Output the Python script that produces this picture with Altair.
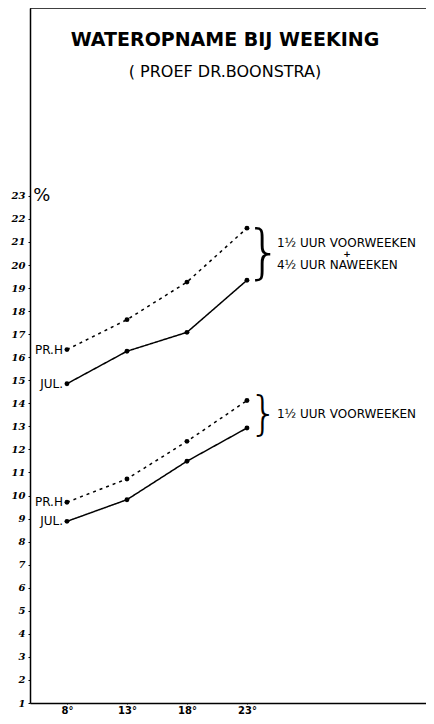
import altair as alt
import pandas as pd

temps = [8, 13, 18, 23]
prh_long = [16.33, 17.63, 19.26, 21.6]
jul_long = [14.85, 16.26, 17.08, 19.34]
prh_short = [9.71, 10.72, 12.35, 14.12]
jul_short = [8.88, 9.82, 11.49, 12.93]

series_names = ["prh_long", "jul_long", "prh_short", "jul_short"]
series_vals = [prh_long, jul_long, prh_short, jul_short]
series_dash = ["dot", "solid", "dot", "solid"]
series_lab = ["PR.H", "JUL.", "PR.H", "JUL."]

y_ticks = list(range(1, 24))
x_ticks = temps

rows = []
for n, vals, d in zip(series_names, series_vals, series_dash):
    for t, v in zip(temps, vals):
        rows.append({"series": n, "temp": t, "val": v, "dash": d})
df = pd.DataFrame(rows)

lab_df = pd.DataFrame({"temp": [temps[0]] * 4,
                       "val": [s[0] for s in series_vals],
                       "label": series_lab})

W = 396
XD = [4.92, 4.92 + W / 12]
YD = [1, 31.15]
xs = alt.Scale(domain=XD, nice=False, zero=False)
ys = alt.Scale(domain=YD, nice=False, zero=False)

base = alt.Chart(df)

x_enc = alt.X("temp:Q", scale=xs,
              axis=alt.Axis(values=x_ticks, labelExpr="datum.value + '°'", title=None))
y_enc = alt.Y("val:Q", scale=ys, axis=alt.Axis(values=y_ticks, title=None))

lines = base.mark_line(color="black", strokeWidth=1.5).encode(
    x=x_enc, y=y_enc, detail="series:N",
    strokeDash=alt.StrokeDash("dash:N", scale=alt.Scale(domain=["dot", "solid"], range=[[3, 4], [1, 0]]), legend=None),
)
pts = base.mark_circle(color="black", size=24, opacity=1).encode(x=x_enc, y=y_enc)

labels = alt.Chart(lab_df).mark_text(align="right", baseline="middle", dx=-4, fontSize=12,
                                     font="DejaVu Sans", color="black").encode(
    x=x_enc, y=y_enc, text="label:N")

topline = alt.Chart(pd.DataFrame({"val": [YD[1]]})).mark_rule(color="black", strokeWidth=1.5).encode(
    y=y_enc, x=alt.value(0), x2=alt.value(W))

ann = pd.DataFrame({
    "temp": [21.17, 21.17, 5.9, 25.5, 25.5, 31.33, 25.5],
    "val": [29.76, 28.37, 23.0, 20.95, 20.0, 20.48, 13.54],
    "t": ["WATEROPNAME BIJ WEEKING", "( PROEF DR.BOONSTRA)", "%",
          "1½ UUR  VOORWEEKEN", "4½ UUR NAWEEKEN", "+", "1½ UUR VOORWEEKEN"],
    "size": [19, 16, 18, 12, 12, 9, 12],
    "w": ["bold", "normal", "normal", "normal", "normal", "bold", "normal"],
    "al": ["center", "center", "center", "left", "left", "center", "left"],
})
ann_layers = []
for i in range(len(ann)):
    r = ann.iloc[[i]]
    ann_layers.append(alt.Chart(r).mark_text(align=r["al"].iloc[0], baseline="middle",
                                             fontSize=int(r["size"].iloc[0]), fontWeight=r["w"].iloc[0],
                                             font="DejaVu Sans", color="black").encode(
        x=x_enc, y=y_enc, text="t:N"))

braces = pd.DataFrame({"temp": [24.4, 24.4], "val": [20.43, 13.5], "s": [58, 46]})
brace_layers = []
for i in range(2):
    r = braces.iloc[[i]]
    brace_layers.append(alt.Chart(r).mark_text(text="}", align="center", baseline="middle",
                                               fontSize=int(r["s"].iloc[0]), font="DejaVu Sans",
                                               fontWeight=200, color="black").encode(
        x=x_enc, y=y_enc))

chart = alt.layer(lines, pts, labels, topline, *ann_layers, *brace_layers).properties(
    width=W, height=695,
    background="white",
    autosize=alt.AutoSizeParams(type="none"),
    padding={"left": 22, "top": 0, "right": 0, "bottom": 13},
).configure_view(stroke="transparent", strokeWidth=0).configure_axis(
    grid=False, domainColor="black", tickColor="black", domainWidth=1.5, labelColor="black",
).configure_axisX(
    tickSize=1, labelFont="DejaVu Sans", labelFontWeight="bold", labelFontSize=10,
    labelPadding=1, labelBaseline="top",
).configure_axisY(
    tickSize=2, labelFont="DejaVu Serif", labelFontStyle="italic", labelFontWeight="bold",
    labelFontSize=10, labelPadding=3, labelOverlap=False, labelFlush=False,
)

chart.save("out.html", embed_options={"renderer": "svg", "actions": False})
